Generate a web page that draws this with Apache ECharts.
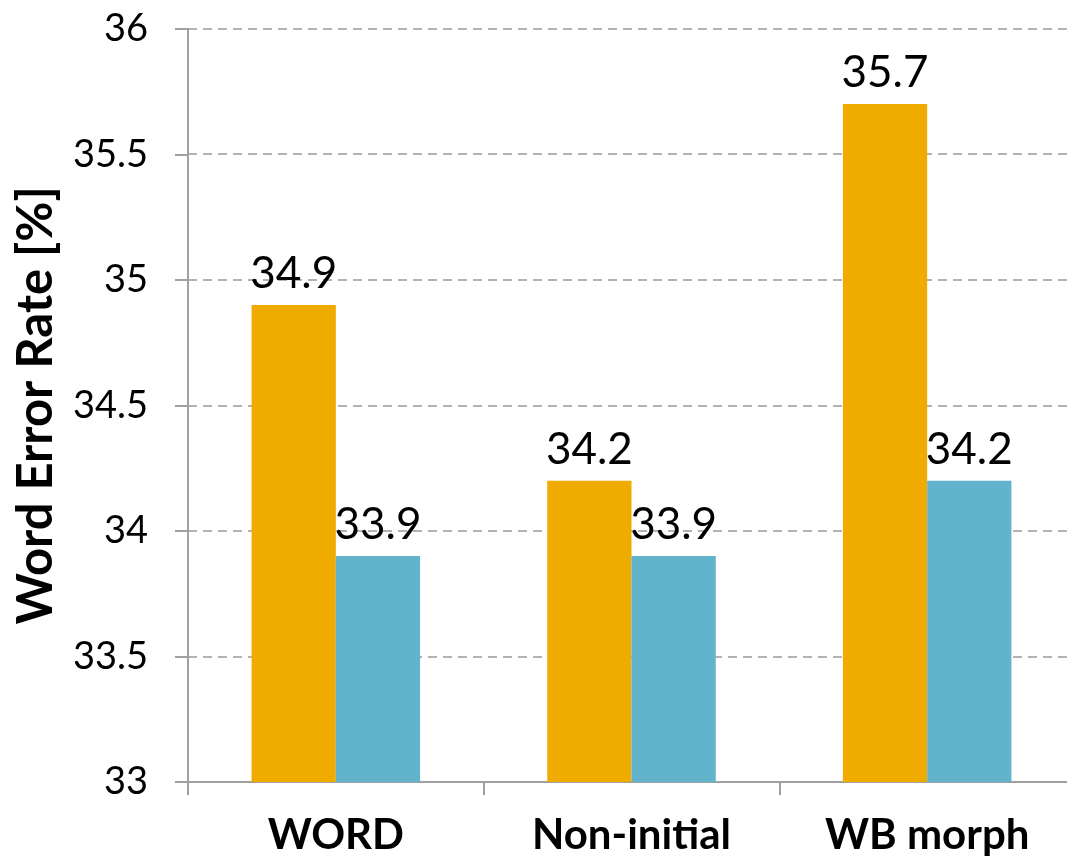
<!DOCTYPE html>
<html>
<head>
<meta charset="utf-8">
<script src="https://cdn.jsdelivr.net/npm/echarts@6/dist/echarts.min.js"></script>
<style>
  html, body { margin: 0; padding: 0; background: #fff; }
  #chart { width: 1067px; height: 858px; }
</style>
</head>
<body>
<div id="chart"></div>
<script>
// Word error rate per unit type, two systems
const categories = ['WORD', 'Non-initial', 'WB morph'];
const seriesA = [34.9, 34.2, 35.7];
const seriesB = [33.9, 33.9, 34.2];
const yMin = 33, yMax = 36, yStep = 0.5;

const FONT = 'Lato, "Open Sans", sans-serif';
const AXIS_GRAY = '#a0a0a0';

const chart = echarts.init(document.getElementById('chart'), null, { renderer: 'canvas' });

const valueLabel = {
  show: true,
  position: 'top',
  distance: 9,
  color: '#000',
  fontFamily: FONT,
  fontSize: 44,
  formatter: p => p.value.toFixed(1)
};

chart.setOption({
  backgroundColor: '#fff',
  animation: false,
  // plot area runs a little past the right edge of the canvas
  grid: { left: 188, width: 887, top: 28.7, bottom: 76, outerBoundsMode: 'none', containLabel: false },
  xAxis: {
    type: 'category',
    data: categories,
    axisLine: { lineStyle: { color: AXIS_GRAY, width: 2 } },
    axisTick: { show: true, length: 13, lineStyle: { color: AXIS_GRAY, width: 2 } },
    axisLabel: { color: '#000', fontFamily: FONT, fontWeight: 'bold', fontSize: 42, margin: 32 }
  },
  yAxis: {
    type: 'value',
    min: yMin,
    max: yMax,
    interval: yStep,
    name: 'Word Error Rate [%]',
    nameLocation: 'middle',
    nameRotate: 90,
    nameGap: 127,
    nameTextStyle: { color: '#000', fontFamily: FONT, fontWeight: 'bold', fontSize: 49 },
    axisLine: { show: true, lineStyle: { color: AXIS_GRAY, width: 2 } },
    axisTick: { show: true, length: 13, lineStyle: { color: AXIS_GRAY, width: 2 } },
    axisLabel: {
      color: '#000', fontFamily: FONT, fontSize: 38, margin: 40,
      formatter: v => String(Number(v.toFixed(1)))
    },
    splitLine: { show: true, lineStyle: { color: '#999', width: 1.5, type: [9, 6] } }
  },
  series: [
    {
      type: 'bar',
      data: seriesA,
      barGap: '0%',
      barCategoryGap: '43%',
      itemStyle: { color: '#F0AB00' },
      label: valueLabel
    },
    {
      type: 'bar',
      data: seriesB,
      itemStyle: { color: '#61B4CC' },
      label: valueLabel
    }
  ]
});
</script>
</body>
</html>
